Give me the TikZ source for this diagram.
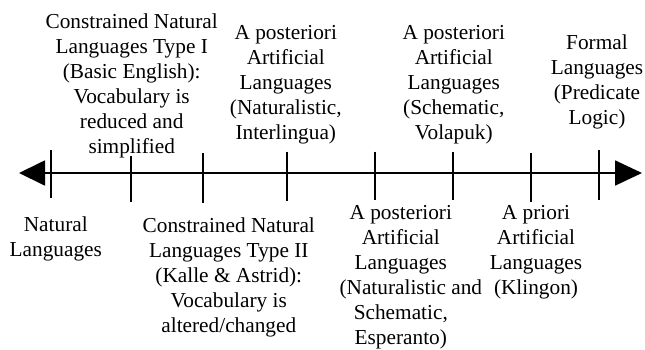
\documentclass[tikz,border=0pt]{standalone}
\usepackage{fontspec}
\setmainfont{Liberation Serif}
\usetikzlibrary{arrows.meta}
\begin{document}
\begin{tikzpicture}[x=1pt,y=-1pt,
  lbl/.style={align=center, inner sep=0pt, anchor=north, font=\fontsize{21.3}{25}\selectfont},
  tickline/.style={line width=1.8pt},
  axisline/.style={line width=1.8pt, {Triangle[length=26pt,width=25pt]}-{Triangle[length=27pt,width=25pt]}}]
\useasboundingbox (0,0) rectangle (645,349);
% axis
\coordinate (aL) at (19,173);
\coordinate (aR) at (642,173);
\draw[axisline] (aL) -- (aR);
% ticks
\coordinate (t1a) at (50.7,150);   \coordinate (t1b) at (50.7,198.3);
\coordinate (t2a) at (130.7,156);  \coordinate (t2b) at (130.7,201.7);
\coordinate (t3a) at (202.7,153.3);\coordinate (t3b) at (202.7,202.7);
\coordinate (t4a) at (286.7,151.7);\coordinate (t4b) at (286.7,200.7);
\coordinate (t5a) at (375,151.7);  \coordinate (t5b) at (375,200);
\coordinate (t6a) at (453.3,151.7);\coordinate (t6b) at (453.3,200);
\coordinate (t7a) at (531,152.7);  \coordinate (t7b) at (531,201.7);
\coordinate (t8a) at (599.3,150);  \coordinate (t8b) at (599.3,200);
\foreach \i in {1,...,8} {\draw[tickline] (t\i a) -- (t\i b);}
% labels above
\node[lbl] (l1) at (131.7,13.8) {Constrained Natural\\Languages Type I\\(Basic English):\\Vocabulary is\\reduced and\\simplified};
\node[lbl] (l2) at (285.8,25.5) {A posteriori\\Artificial\\Languages\\(Naturalistic,\\Interlingua)};
\node[lbl] (l3) at (453.8,25.5) {A posteriori\\Artificial\\Languages\\(Schematic,\\Volapuk)};
\node[lbl] (l4) at (597,34.8) {Formal\\Languages\\(Predicate\\Logic)};
% labels below
\node[lbl] (l5) at (55.8,216.2) {Natural\\Languages};
\node[lbl] (l6) at (228.8,217.2) {Constrained Natural\\Languages Type II\\(Kalle \& Astrid):\\Vocabulary is\\altered/changed};
\node[lbl] (l7) at (400.8,205.5) {A posteriori\\Artificial\\Languages\\\hspace*{20pt}(Naturalistic and\\Schematic,\\Esperanto)};
\node[lbl] (l8) at (536,205.5) {A priori\\Artificial\\Languages\\(Klingon)};
\end{tikzpicture}
\end{document}
